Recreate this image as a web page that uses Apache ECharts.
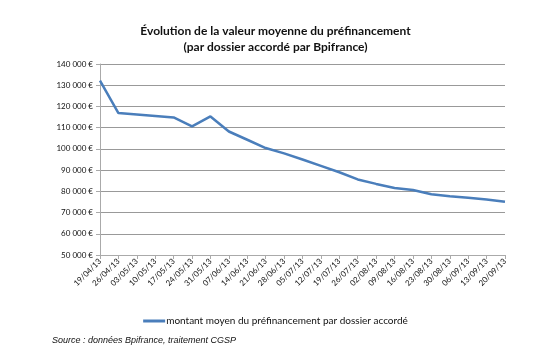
<!DOCTYPE html>
<html>
<head>
<meta charset="utf-8">
<script src="https://cdn.jsdelivr.net/npm/echarts@6/dist/echarts.min.js"></script>
<style>
  html, body { margin: 0; padding: 0; background: #fff; }
  #main { width: 551px; height: 351px; }
</style>
</head>
<body>
<div id="main"></div>
<script>
var dates = ['19/04/13', '26/04/13', '03/05/13', '10/05/13', '17/05/13', '24/05/13', '31/05/13',
  '07/06/13', '14/06/13', '21/06/13', '28/06/13', '05/07/13', '12/07/13', '19/07/13', '26/07/13',
  '02/08/13', '09/08/13', '16/08/13', '23/08/13', '30/08/13', '06/09/13', '13/09/13', '20/09/13']
var montant = [132200, 116900, 116200, 115500, 114800, 110600, 115300,
  108200, 104300, 100400, 97900, 95000, 92000, 89000, 85600,
  83500, 81600, 80600, 78600, 77700, 77000, 76200, 75100]
var serieName = 'montant moyen du préfinancement par dossier accordé'

var fmtEuro = function (v) {
  return String(v).replace(/\B(?=(\d{3})+(?!\d))/g, ' ') + ' €'
}

var myChart = echarts.init(document.getElementById('main'), null, { renderer: 'canvas' })
var option = {
  animation: false,
  backgroundColor: '#fff',
  title: {
    text: 'Évolution de la valeur moyenne du préfinancement\n(par dossier accordé par Bpifrance)',
    left: 'center',
    top: 18,
    textStyle: { fontFamily: 'Lato', fontWeight: 'bold', fontSize: 12, lineHeight: 16, color: '#111' }
  },
  legend: {
    data: [serieName],
    bottom: 20,
    left: 'center',
    itemWidth: 22,
    itemHeight: 3,
    itemGap: 2,
    icon: 'rect',
    textStyle: { fontFamily: 'Lato', fontSize: 10, color: '#111', padding: [0, 0, 0, -4] }
  },
  graphic: [{
    type: 'text',
    left: 52,
    top: 336,
    style: {
      text: 'Source : données Bpifrance, traitement CGSP',
      font: 'italic 9px "Liberation Sans"',
      fill: '#111'
    }
  }],
  grid: { left: 100, right: 46, top: 64, bottom: 96 },
  xAxis: {
    type: 'category',
    data: dates,
    boundaryGap: false,
    axisLine: { lineStyle: { color: '#aaa', width: 1 } },
    axisTick: { show: true, alignWithLabel: true, length: 4, lineStyle: { color: '#aaa' } },
    axisLabel: { interval: 0, rotate: 45, fontFamily: 'Lato', fontSize: 8, color: '#111', margin: 5 },
    splitLine: { show: false }
  },
  yAxis: {
    type: 'value',
    min: 50000,
    max: 140000,
    interval: 10000,
    axisLine: { show: true, lineStyle: { color: '#aaa', width: 1 } },
    axisTick: { show: true, length: 4, lineStyle: { color: '#aaa' } },
    axisLabel: { formatter: fmtEuro, fontFamily: 'Lato', fontSize: 8, color: '#111', margin: 7 },
    splitLine: { lineStyle: { color: '#999', width: 1 } }
  },
  series: [{
    name: serieName,
    type: 'line',
    data: montant,
    symbol: 'none',
    lineStyle: { color: '#4a7ebb', width: 2.5 },
    itemStyle: { color: '#4a7ebb' }
  }]
}
myChart.setOption(option)
</script>
</body>
</html>
